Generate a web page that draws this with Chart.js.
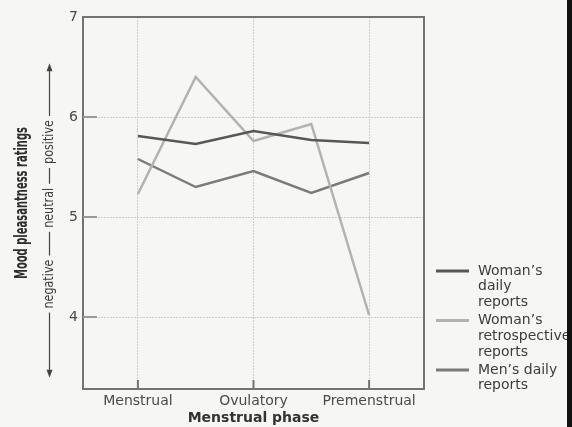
<!DOCTYPE html>
<html lang="en">
<head>
    <meta charset="UTF-8">
    <meta name="viewport" content="width=device-width, initial-scale=1.0">
    <title>Mood pleasantness across the menstrual cycle</title>
    <script src="https://cdn.jsdelivr.net/npm/chart.js"></script>
    <style>
        body, html { margin: 0; padding: 0; width: 572px; height: 427px; background: #f6f6f4; overflow: hidden; }
        #chartContainer { position: relative; width: 572px; height: 427px; }
        #chartCanvas { display: block; }
        #edge { position: absolute; right: 0; top: 0; width: 5px; height: 427px; background: #111; }
    </style>
</head>
<body>
    <div id="chartContainer"><canvas id="chartCanvas" width="572" height="427"></canvas><div id="edge"></div></div>

    <script>
        // phases sit on every other sample position
        const phases = ['Menstrual', 'Ovulatory', 'Premenstrual'];
        const phasePositions = [0, 2, 4];
        const samplePositions = [0, 1, 2, 3, 4];
        const womanDaily = [5.81, 5.73, 5.86, 5.77, 5.74];
        const womanRetro = [5.23, 6.40, 5.76, 5.93, 4.02];
        const menDaily = [5.58, 5.30, 5.46, 5.24, 5.44];
        const yTicks = [4, 5, 6, 7];
        const yTitle = 'Mood pleasantness ratings';
        const moodWords = ['positive', 'neutral', 'negative'];
        const seriesLabels = [
            ['Woman\u2019s', 'daily', 'reports'],
            ['Woman\u2019s', 'retrospective', 'reports'],
            ['Men\u2019s daily', 'reports']
        ];
        const seriesColors = ['#575757', '#b2b2b2', '#7a7a7a'];

        const toPoints = vals => vals.map((v, i) => ({ x: samplePositions[i], y: v }));

        // rotated text, squeezed along its length to mimic a condensed face
        function vText(ctx, text, x, y, squeeze) {
            ctx.save();
            ctx.translate(x, y);
            ctx.rotate(-Math.PI / 2);
            ctx.scale(squeeze, 1);
            ctx.textAlign = 'center';
            ctx.textBaseline = 'middle';
            ctx.fillText(text, 0, 0);
            ctx.restore();
        }

        const frame = {
            id: 'frame',
            afterDraw(chart) {
                const { ctx, chartArea: a, scales } = chart;
                const h = a.bottom - a.top;
                ctx.save();
                ctx.strokeStyle = '#737373';
                ctx.lineWidth = 2;
                ctx.strokeRect(a.left, a.top, a.right - a.left, a.bottom - a.top);
                // short inner ticks
                ctx.strokeStyle = '#999';
                yTicks.slice(0, 3).forEach(v => {
                    const y = scales.y.getPixelForValue(v);
                    ctx.beginPath(); ctx.moveTo(a.left, y); ctx.lineTo(a.left + 14, y); ctx.stroke();
                });
                ctx.strokeStyle = '#737373';
                phasePositions.forEach(v => {
                    const x = scales.x.getPixelForValue(v);
                    ctx.beginPath(); ctx.moveTo(x, a.bottom); ctx.lineTo(x, a.bottom - 9); ctx.stroke();
                });

                // y title
                ctx.fillStyle = '#2e2e2e';
                ctx.font = 'bold 17px "DejaVu Sans", sans-serif';
                const tw = ctx.measureText(yTitle).width;
                vText(ctx, yTitle, 23, (a.top + a.bottom) / 2, 152 / tw);

                // negative -- neutral -- positive arrow
                const ax = 49.5;
                const top = a.top + 0.124 * h, bot = a.top + 0.97 * h;
                const centres = [0.336, 0.513, 0.718];
                ctx.strokeStyle = '#444';
                ctx.fillStyle = '#3e3e3e';
                ctx.lineWidth = 1.2;
                ctx.font = '14px "DejaVu Sans", sans-serif';
                const squeeze = 0.8;
                let cursor = top + 4;
                moodWords.forEach((w, i) => {
                    const c = a.top + centres[i] * h;
                    const half = ctx.measureText(w).width * squeeze / 2 + 4;
                    ctx.beginPath(); ctx.moveTo(ax, cursor); ctx.lineTo(ax, c - half); ctx.stroke();
                    vText(ctx, w, ax, c, squeeze);
                    cursor = c + half;
                });
                ctx.beginPath(); ctx.moveTo(ax, cursor); ctx.lineTo(ax, bot - 4); ctx.stroke();
                ctx.fillStyle = '#444';
                ctx.beginPath(); ctx.moveTo(ax, top); ctx.lineTo(ax - 3, top + 8); ctx.lineTo(ax + 3, top + 8); ctx.closePath(); ctx.fill();
                ctx.beginPath(); ctx.moveTo(ax, bot); ctx.lineTo(ax - 3, bot - 8); ctx.lineTo(ax + 3, bot - 8); ctx.closePath(); ctx.fill();

                // legend
                ctx.font = '14px "DejaVu Sans", sans-serif';
                ctx.textAlign = 'left';
                ctx.textBaseline = 'middle';
                let ly = 271;
                seriesLabels.forEach((lines, i) => {
                    ctx.strokeStyle = seriesColors[i];
                    ctx.lineWidth = 3;
                    ctx.beginPath(); ctx.moveTo(436, ly); ctx.lineTo(469, ly); ctx.stroke();
                    ctx.fillStyle = '#3c3c3c';
                    lines.forEach((t, j) => ctx.fillText(t, 478, ly + j * 15.8));
                    ly += 49.5;
                });
                ctx.restore();
            }
        };

        new Chart(document.getElementById('chartCanvas'), {
            type: 'line',
            data: {
                datasets: [
                    { label: 'Woman\u2019s daily reports', data: toPoints(womanDaily), borderColor: seriesColors[0] },
                    { label: 'Woman\u2019s retrospective reports', data: toPoints(womanRetro), borderColor: seriesColors[1] },
                    { label: 'Men\u2019s daily reports', data: toPoints(menDaily), borderColor: seriesColors[2] }
                ]
            },
            options: {
                responsive: false,
                animation: false,
                events: [],
                layout: { padding: { top: 17, right: 148, left: 0, bottom: 0 } },
                elements: {
                    line: { borderWidth: 2.5, tension: 0 },
                    point: { radius: 0 }
                },
                plugins: { legend: { display: false }, tooltip: { enabled: false } },
                scales: {
                    x: {
                        type: 'linear',
                        min: -0.95,
                        max: 4.95,
                        afterBuildTicks: s => { s.ticks = phasePositions.map(v => ({ value: v })); },
                        afterFit: s => { s.height = 38; },
                        ticks: {
                            callback: v => phases[phasePositions.indexOf(v)],
                            color: '#4a4a4a',
                            font: { family: 'DejaVu Sans', size: 14 },
                            padding: 4,
                            maxRotation: 0
                        },
                        grid: { color: '#cdcdcd', lineWidth: 1, drawTicks: false },
                        border: { display: false, dash: [2, 1] },
                        title: {
                            display: true,
                            text: 'Menstrual phase',
                            color: '#333',
                            font: { family: 'DejaVu Sans', size: 14, weight: 'bold' },
                            padding: { top: 0, bottom: 0 }
                        }
                    },
                    y: {
                        min: 3.28,
                        max: 7,
                        afterBuildTicks: s => { s.ticks = yTicks.map(v => ({ value: v })); },
                        afterFit: s => { s.width = 83; },
                        ticks: {
                            color: '#4a4a4a',
                            font: { family: 'DejaVu Sans', size: 14 },
                            padding: 5
                        },
                        grid: { color: '#cdcdcd', lineWidth: 1, drawTicks: false },
                        border: { display: false, dash: [2, 1] }
                    }
                }
            },
            plugins: [frame]
        });
    </script>
</body>
</html>
